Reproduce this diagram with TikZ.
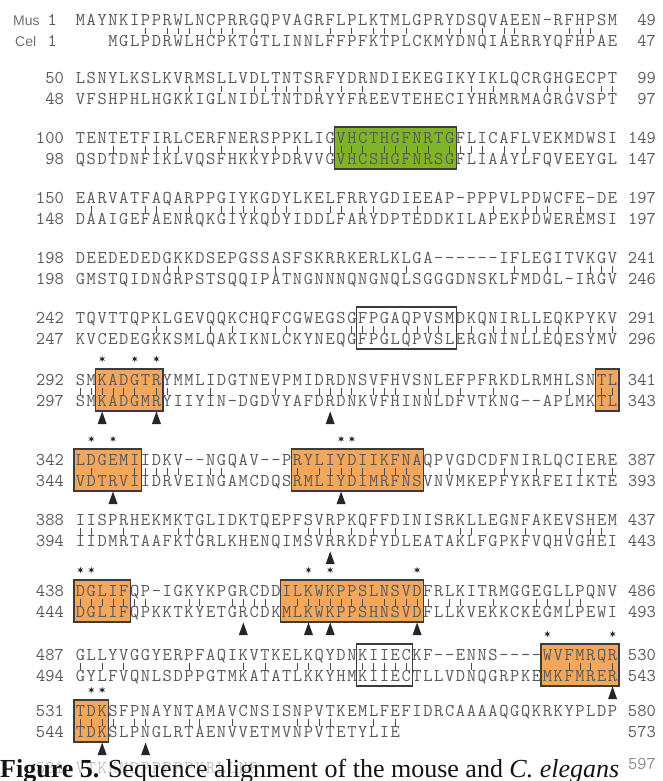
\documentclass[tikz,border=0pt]{standalone}
\usepackage{fontspec}
\setsansfont{Liberation Sans}
\newfontfamily\capfont{Liberation Serif}
\usetikzlibrary{shapes.geometric}
\definecolor{seqgray}{HTML}{5A5A5A}
\definecolor{labgray}{HTML}{707070}
\definecolor{faint}{HTML}{C4C4C4}
\definecolor{boxorange}{HTML}{F2A75C}
\definecolor{boxgreen}{HTML}{80B526}
\definecolor{boxline}{HTML}{3C3C3C}
\newcommand\seqfnt{\fontsize{18}{18}\selectfont\ttfamily}
\tikzset{
  seqch/.style={anchor=base, inner sep=0pt, outer sep=0pt, font=\seqfnt, text=seqgray},
  numl/.style={anchor=base east, inner sep=0pt, font=\seqfnt, text=seqgray},
  numr/.style={anchor=base east, inner sep=0pt, font=\seqfnt, text=seqgray},
  lab/.style={anchor=base west, inner sep=0pt, font=\sffamily\fontsize{14}{14}\selectfont, text=labgray},
  idtick/.style={draw=seqgray!85!black, line width=0.9pt},
  orangebox/.style={fill=boxorange, draw=boxline, line width=1.3pt},
  greenbox/.style={fill=boxgreen, draw=boxline, line width=1.1pt},
  whitebox/.style={draw=boxline, line width=1.1pt},
  starmark/.style={star, star points=6, star point ratio=2.6, fill=black!85, draw=none, inner sep=0pt, minimum size=6.5pt},
  trimark/.style={fill=black!85},
}

\ExplSyntaxOn
\cs_new:Npn \sa_x:n #1 { \fp_eval:n { round( 75 + ( #1 - 0.5 ) * 10.86 , 2 ) } }
\NewDocumentCommand \seqrow { m m m m }
 {
  \int_step_inline:nn { \str_count:n {#4} }
   {
    \node[seqch] (#1-##1) at ( \sa_x:n { #2 + ##1 } , \fp_eval:n { #3 + 5.5 } ) { \str_item:nn {#4} {##1} } ;
   }
 }
\NewDocumentCommand \idticks { m m m m }
 {
  \int_step_inline:nn { \str_count:n {#2} }
   {
    \tl_set:Nx \l_tmpa_tl { \str_item:nn {#2} {##1} }
    \int_compare:nNnTF { ##1 - #3 } > { 0 }
     { \tl_set:Nx \l_tmpb_tl { \str_item:nn {#4} { ##1 - #3 } } }
     { \tl_set:Nn \l_tmpb_tl { ? } }
    \bool_lazy_and:nnT
     { ! \str_if_eq_p:ee { \l_tmpa_tl } { - } }
     {
      \bool_lazy_any_p:n
       {
        { \str_if_eq_p:ee { \l_tmpa_tl } { \l_tmpb_tl } }
        { \str_if_eq_p:ee { \l_tmpa_tl \l_tmpb_tl } { KR } }
        { \str_if_eq_p:ee { \l_tmpa_tl \l_tmpb_tl } { RK } }
       }
     }
     {
      \draw[idtick] ( \sa_x:n { ##1 } , \fp_eval:n { #1 + 8 } ) -- ++(0,6.5) ;
     }
   }
 }
\NewDocumentCommand \seqblock { m m m m m m m m m }
 {
  \idticks { #2 } { #4 } { #7 } { #8 }
  \seqrow { #1a } { 0 } { #2 } { #4 }
  \seqrow { #1b } { #7 } { #2 + 21 } { #8 }
  \node[numl] (#1a-l) at ( 64 , \fp_eval:n { #2 + 5.5 } ) { #3 } ;
  \node[numr] (#1a-r) at ( 656 , \fp_eval:n { #2 + 5.5 } ) { #5 } ;
  \node[numl] (#1b-l) at ( 64 , \fp_eval:n { #2 + 26.5 } ) { #6 } ;
  \node[numr] (#1b-r) at ( 656 , \fp_eval:n { #2 + 26.5 } ) { #9 } ;
 }
\NewDocumentCommand \hlbox { m m m m }
 {
  \draw[#1] ( \fp_eval:n { round( 75 + (#2 - 1) * 10.86 - 1 , 2 ) } , \fp_eval:n { #4 - 11 } )
    rectangle ( \fp_eval:n { round( 75 + #3 * 10.86 + 1 , 2 ) } , \fp_eval:n { #4 + 31 } ) ;
 }
\NewDocumentCommand \markstar { m m }
 {
  \node[starmark] (st-#2-#1) at ( \sa_x:n { #1 } , #2 ) { } ;
 }
\NewDocumentCommand \marktri { m m }
 {
  \fill[trimark] ( \fp_eval:n { round( 75 + ( #1 - 0.5 ) * 10.86 - 4.5 , 2 ) } , \fp_eval:n { #2 + 6 } ) -- ++(9,0) -- ++(-4.5,-12.5) -- cycle ;
 }
\ExplSyntaxOff

\begin{document}
\begin{tikzpicture}[x=1pt, y=-1pt]
\fill[white] (0,0) rectangle (663,781);
\useasboundingbox (0,0) rectangle (663,781);

% highlight boxes
\hlbox{greenbox}{25}{35}{138}
\hlbox{whitebox}{27}{35}{318}
\hlbox{orangebox}{3}{8}{380}
\hlbox{orangebox}{49}{50}{380}
\hlbox{orangebox}{1}{6}{460}
\hlbox{orangebox}{21}{32}{460}
\hlbox{orangebox}{1}{5}{591}
\hlbox{orangebox}{20}{32}{591}
\hlbox{whitebox}{27}{31}{655}
\hlbox{orangebox}{44}{50}{655}
\hlbox{orangebox}{1}{3}{711}

% alignment blocks
\seqblock{b1}{20}{}{MAYNKIPPRWLNCPRRGQPVAGRFLPLKTMLGPRYDSQVAEEN-RFHPSM}{49}{}{3}{MGLPDRWLHCPKTGTLINNLFFPFKTPLCKMYDNQIAERRYQFHPAE}{47}
\node[lab] (mus) at (13,25.5) {Mus};
\node[numl] (mus1) at (57,25.5) {1};
\node[lab] (cel) at (15,46.5) {Cel};
\node[numl] (cel1) at (57,46.5) {1};

\seqblock{b2}{78}{50}{LSNYLKSLKVRMSLLVDLTNTSRFYDRNDIEKEGIKYIKLQCRGHGECPT}{99}{48}{0}{VFSHPHLHGKKIGLNIDLTNTDRYYFREEVTEHECIYHRMRMAGRGVSPT}{97}
\seqblock{b3}{138}{100}{TENTETFIRLCERFNERSPPKLIGVHCTHGFNRTGFLICAFLVEKMDWSI}{149}{98}{0}{QSDTDNFIKLVQSFHKKYPDRVVGVHCSHGFNRSGFLIAAYLFQVEEYGL}{147}
\seqblock{b4}{198}{150}{EARVATFAQARPPGIYKGDYLKELFRRYGDIEEAP-PPPVLPDWCFE-DE}{197}{148}{0}{DAAIGEFAENRQKGIYKQDYIDDLFARYDPTEDDKILAPEKPDWEREMSI}{197}
\seqblock{b5}{258}{198}{DEEDEDEDGKKDSEPGSSASFSKRRKERLKLGA------IFLEGITVKGV}{241}{198}{0}{GMSTQIDNGRPSTSQQIPATNGNNNQNGNQLSGGGDNSKLFMDGL-IRGV}{246}
\seqblock{b6}{318}{242}{TQVTTQPKLGEVQQKCHQFCGWEGSGFPGAQPVSMDKQNIRLLEQKPYKV}{291}{247}{0}{KVCEDEGKKSMLQAKIKNLCKYNEQGFPGLQPVSLERGNINLLEQESYMV}{296}
\seqblock{b7}{380}{292}{SMKADGTRYMMLIDGTNEVPMIDRDNSVFHVSNLEFPFRKDLRMHLSNTL}{341}{297}{0}{SMKADGMRYIIYIN-DGDVYAFDRDNKVFHINNLDFVTKNG--APLMKTL}{343}
\seqblock{b8}{460}{342}{LDGEMIIDKV--NGQAV--PRYLIYDIIKFNAQPVGDCDFNIRLQCIERE}{387}{344}{0}{VDTRVIIDRVEINGAMCDQSRMLIYDIMRFNSVNVMKEPFYKRFEIIKTE}{393}
\seqblock{b9}{520}{388}{IISPRHEKMKTGLIDKTQEPFSVRPKQFFDINISRKLLEGNFAKEVSHEM}{437}{394}{0}{IIDMRTAAFKTGRLKHENQIMSVRRKDFYDLEATAKLFGPKFVQHVGHEI}{443}
\seqblock{b10}{591}{438}{DGLIFQP-IGKYKPGRCDDILKWKPPSLNSVDFRLKITRMGGEGLLPQNV}{486}{444}{0}{DGLIFQPKKTKYETGRCDKMLKWKPPSHNSVDFLLKVEKKCKEGMLPEWI}{493}
\seqblock{b11}{655}{487}{GLLYVGGYERPFAQIKVTKELKQYDNKIIECKF--ENNS----WVFMRQR}{530}{494}{0}{GYLFVQNLSDPPGTMKATATLKKYHMKIIECTLLVDNQGRPKEMKFMRER}{543}
\seqblock{b12}{711}{531}{TDKSFPNAYNTAMAVCNSISNPVTKEMLFEFIDRCAAAAQGQKRKYPLDP}{580}{544}{0}{TDKSLPNGLRTAENVVETMVNPVTETYLIE}{573}

% conserved residue marks
\markstar{3}{359}\markstar{6}{359}\markstar{8}{359}
\marktri{3}{418}\marktri{8}{418}\marktri{24}{418}
\markstar{2}{439}\markstar{4}{439}\markstar{25}{439}\markstar{26}{439}
\marktri{4}{498}\marktri{25}{498}
\marktri{24}{558}
\markstar{1}{570}\markstar{2}{570}\markstar{22}{570}\markstar{24}{570}\markstar{32}{570}
\marktri{16}{629}\marktri{22}{629}\marktri{24}{629}\marktri{32}{629}
\markstar{44}{634}\markstar{50}{634}
\marktri{50}{693}
\markstar{2}{690}\markstar{3}{690}
\marktri{3}{749}\marktri{7}{749}

% last, mostly hidden row and caption
\begin{scope}[seqch/.append style={text=faint}, numl/.append style={text=faint}]
\seqrow{b13}{0}{768}{VTKKMDPPPPPKRLLNR}
\node[numl] (b13-l) at (64,773.5) {581};
\end{scope}
\node[numr, text=seqgray!70] (b13-r) at (656,769) {597};
\node[anchor=base west, inner sep=0pt, font=\capfont\fontsize{26}{26}\selectfont, text=black!92] (caption) at (0,777)
  {\textbf{Figure 5.} Sequence alignment of the mouse and \textit{C. elegans}};
\end{tikzpicture}
\end{document}
